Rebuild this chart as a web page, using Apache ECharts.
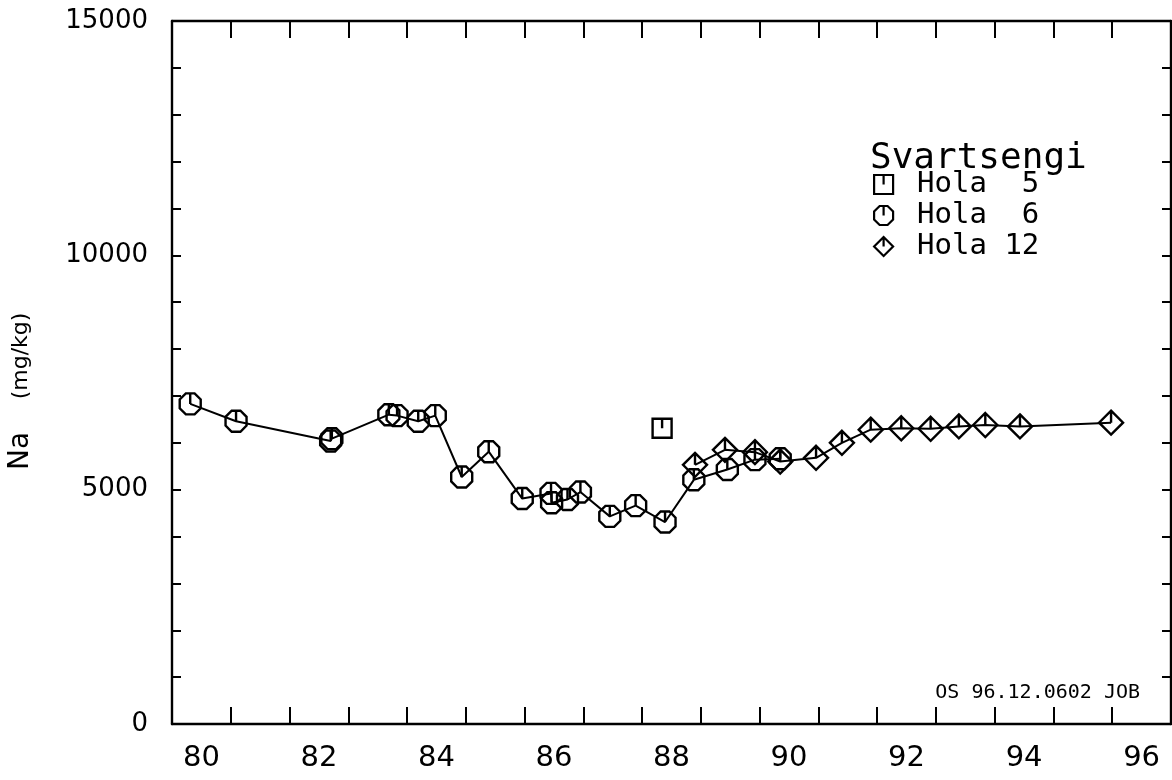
<!DOCTYPE html>
<html>
<head>
<meta charset="utf-8">
<title>Svartsengi - Na</title>
<script src="https://cdn.jsdelivr.net/npm/echarts@6/dist/echarts.min.js"></script>
<style>
html, body { margin: 0; padding: 0; background: #fff; }
#myChart { width: 1172px; height: 780px; }
</style>
</head>
<body>
<div id="myChart"></div>
<script>
// Hola 5 (square)
var hola5Year = [87.84];
var hola5Na = [6310];

// Hola 6 (octagon / circle)
var hola6Year = [79.81, 80.59, 82.20, 82.22, 83.19, 83.33, 83.69, 83.98, 84.43, 84.89,
                 85.46, 85.95, 85.96, 86.23, 86.45, 86.95, 87.39, 87.89, 88.38, 88.95,
                 89.42, 89.85];
var hola6Na = [6830, 6460, 6040, 6090, 6600, 6580, 6460, 6580, 5270, 5810,
               4810, 4920, 4720, 4790, 4950, 4430, 4660, 4310, 5210, 5430,
               5640, 5660];

// Hola 12 (diamond)
var hola12Year = [88.40, 88.91, 89.42, 89.85, 90.46, 90.90, 91.39, 91.91, 92.41, 92.89,
                  93.34, 93.93, 95.48];
var hola12Na = [5530, 5850, 5800, 5600, 5680, 6000, 6280, 6310, 6300, 6350,
                6380, 6350, 6430];

// axis labels and ticks
var xLabelYears = [80, 82, 84, 86, 88, 90, 92, 94, 96];
var xTickYears = [80.5, 81.5, 82.5, 83.5, 84.5, 85.5, 86.5, 87.5, 88.5, 89.5,
                  90.5, 91.5, 92.5, 93.5, 94.5, 95.5];
var yLabelValues = [0, 5000, 10000, 15000];
var yTickValues = [1000, 2000, 3000, 4000, 5000, 6000, 7000, 8000, 9000, 10000,
                   11000, 12000, 13000, 14000];

function pairs(xs, ys) {
    return xs.map(function (x, i) { return [x, ys[i]]; });
}

// hollow plot symbols with the little stroke from top to centre
var squareSym = 'path://M0,0L24,0L24,24L0,24ZM12,0L12,12';
var octSym = 'path://M7,0L17,0L24,7L24,17L17,24L7,24L0,17L0,7ZM12,0L12,12';
var diamondSym = 'path://M12,0L24,12L12,24L0,12ZM12,0L12,12';

var numFont = 'DejaVu Sans';
var monoFont = 'DejaVu Sans Mono';

var markerStyle = { color: 'rgba(0,0,0,0)', borderColor: '#000', borderWidth: 2.4 };
var lineSt = { color: '#000', width: 2 };

var xBase = {
    type: 'value', min: 79.5, max: 96.5,
    splitLine: { show: false },
    axisLine: { show: true, onZero: false, lineStyle: { color: '#000', width: 2.4 } },
    axisTick: { show: true, inside: true, length: 17, customValues: xTickYears,
                lineStyle: { color: '#000', width: 2 } }
};
var yBase = {
    type: 'value', min: 0, max: 15000,
    splitLine: { show: false },
    axisLine: { show: true, onZero: false, lineStyle: { color: '#000', width: 2.4 } },
    axisTick: { show: true, inside: true, length: 9, customValues: yTickValues,
                lineStyle: { color: '#000', width: 2 } }
};

var option = {
    backgroundColor: '#fff',
    animation: false,
    title: {
        text: 'Svartsengi',
        left: 865, top: 136,
        textStyle: { fontFamily: monoFont, fontSize: 36, fontWeight: 'normal', color: '#000' }
    },
    legend: {
        orient: 'vertical',
        left: 868, top: 165,
        itemWidth: 19, itemHeight: 19, itemGap: 2,
        selectedMode: false,
        itemStyle: { color: 'rgba(0,0,0,0)', borderColor: '#000', borderWidth: 2.2 },
        textStyle: { fontFamily: monoFont, fontSize: 29, color: '#000', padding: [0, 0, 0, 19] },
        data: [
            { name: 'Hola  5', icon: squareSym },
            { name: 'Hola  6', icon: octSym },
            { name: 'Hola 12', icon: diamondSym }
        ]
    },
    grid: { left: 172, right: 1, top: 21, bottom: 56, outerBoundsMode: 'none' },
    xAxis: [
        Object.assign({}, xBase, {
            position: 'bottom',
            axisLabel: { customValues: xLabelYears, margin: 20, color: '#000',
                         fontFamily: numFont, fontSize: 29 }
        }),
        Object.assign({}, xBase, { position: 'top', axisLabel: { show: false } })
    ],
    yAxis: [
        Object.assign({}, yBase, {
            position: 'left',
            axisLabel: { customValues: yLabelValues, margin: 24, color: '#000',
                         fontFamily: numFont, fontSize: 26,
                         formatter: function (v) { return String(v); } }
        }),
        Object.assign({}, yBase, { position: 'right', axisLabel: { show: false } })
    ],
    graphic: [
        {
            type: 'text', x: 21, y: 451, rotation: Math.PI / 2,
            style: { text: 'Na', align: 'center', verticalAlign: 'middle', fill: '#000',
                     fontFamily: numFont, fontSize: 28 }
        },
        {
            type: 'text', x: 21, y: 356, rotation: Math.PI / 2,
            style: { text: '(mg/kg)', align: 'center', verticalAlign: 'middle', fill: '#000',
                     fontFamily: numFont, fontSize: 22 }
        },
        {
            type: 'text', x: 1140, y: 693,
            style: {
                text: 'OS 96.12.0602 JOB', align: 'right', verticalAlign: 'middle',
                fill: '#000', fontFamily: monoFont, fontSize: 20
            }
        }
    ],
    series: [
        {
            name: 'Hola  5', type: 'line', data: pairs(hola5Year, hola5Na),
            symbol: squareSym, symbolSize: 19, showAllSymbol: true,
            itemStyle: markerStyle, lineStyle: lineSt
        },
        {
            name: 'Hola  6', type: 'line', data: pairs(hola6Year, hola6Na),
            symbol: octSym, symbolSize: 21, showAllSymbol: true,
            itemStyle: markerStyle, lineStyle: lineSt
        },
        {
            name: 'Hola 12', type: 'line', data: pairs(hola12Year, hola12Na),
            symbol: diamondSym, symbolSize: 24, showAllSymbol: true,
            itemStyle: markerStyle, lineStyle: lineSt
        }
    ]
};

// 基于准备好的dom，初始化echarts实例
var myChart = echarts.init(document.getElementById('myChart'));
myChart.setOption(option);
window.onresize = function () {
    myChart.resize();
};
</script>
</body>
</html>
